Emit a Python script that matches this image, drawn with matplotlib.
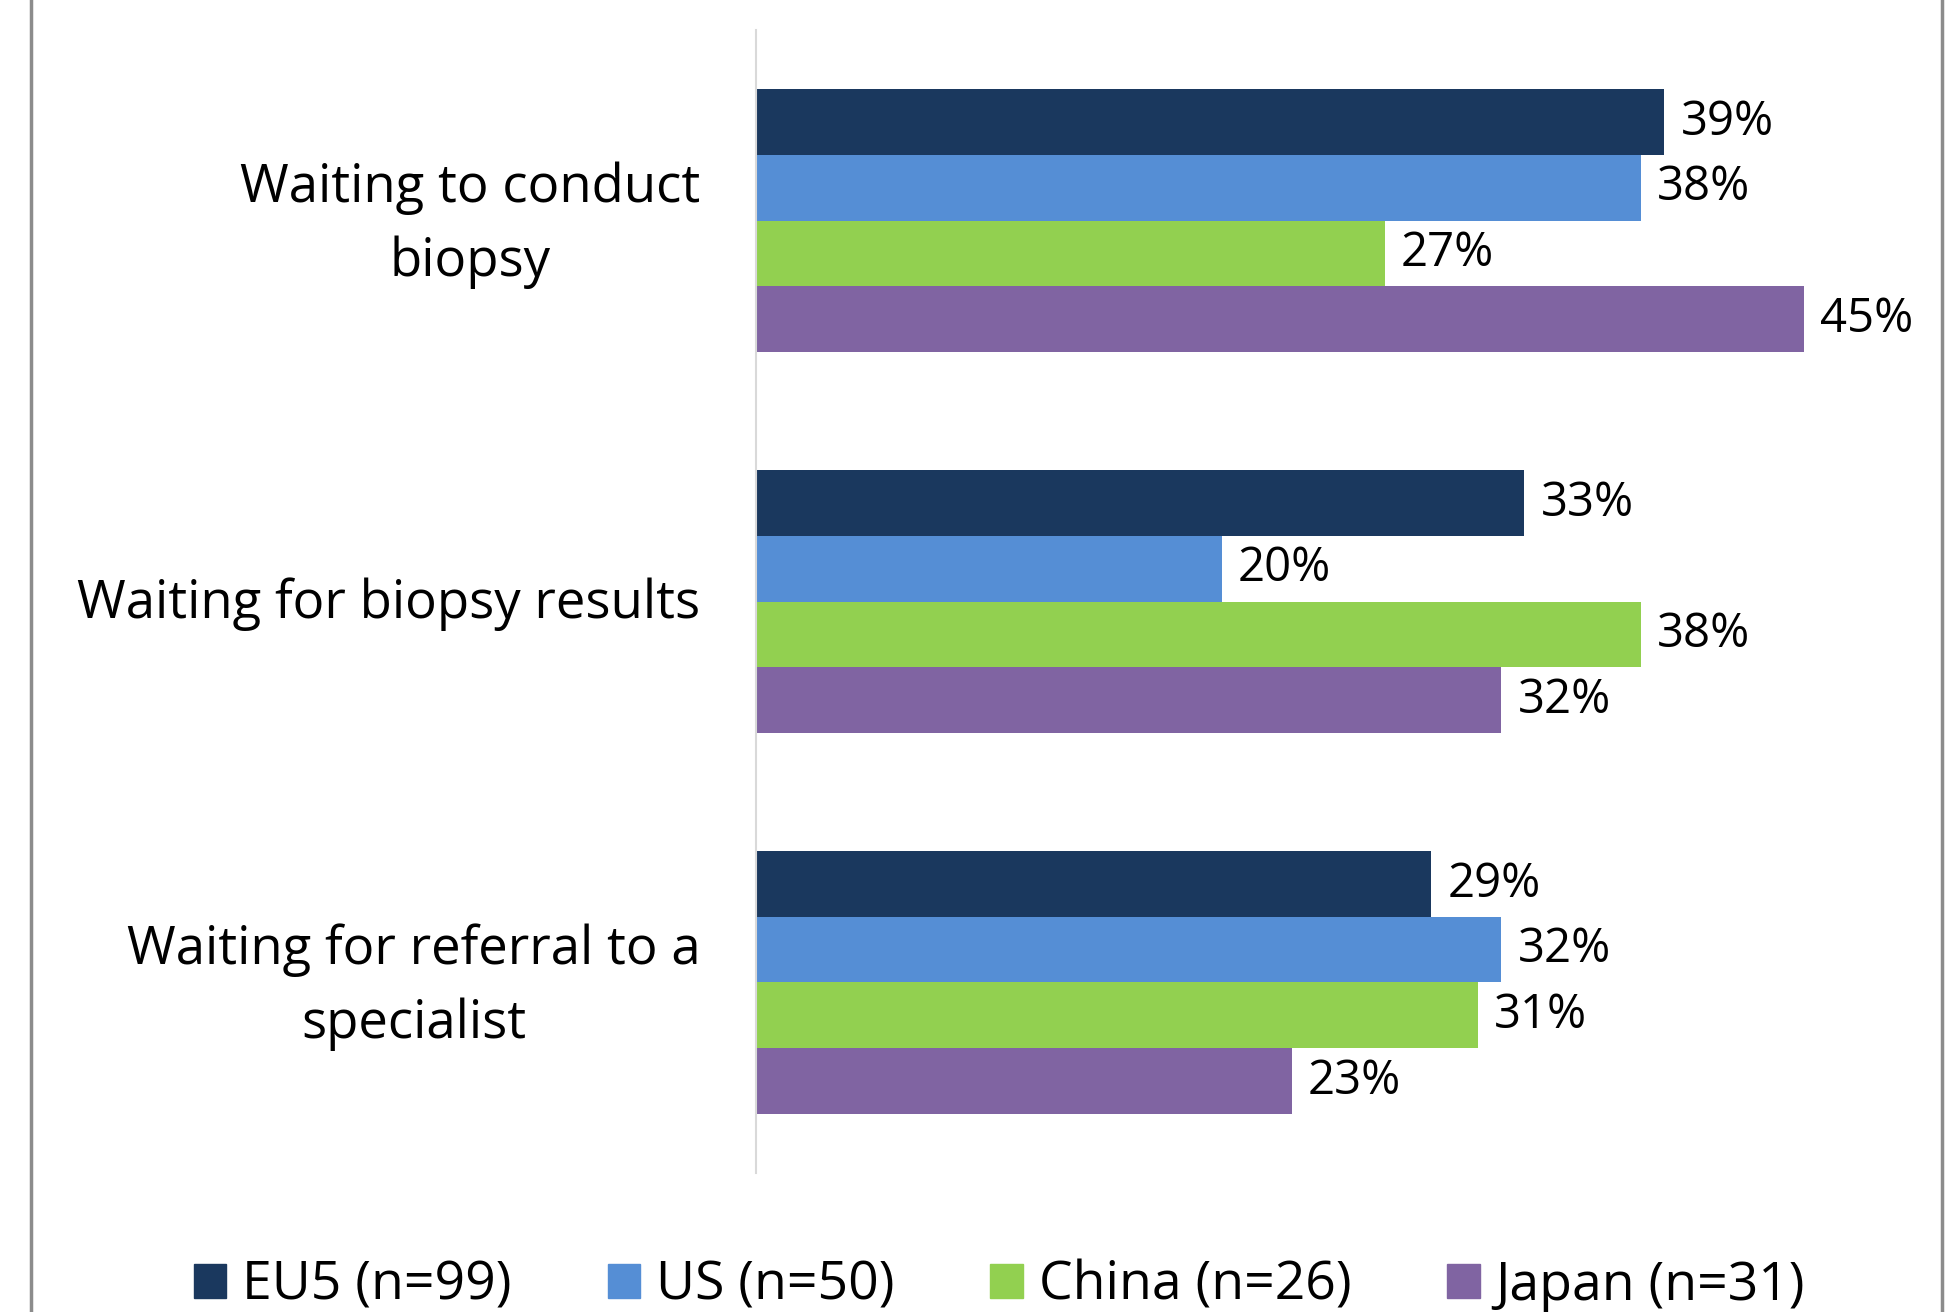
import matplotlib
matplotlib.use('Agg')
import matplotlib.pyplot as plt
import matplotlib.transforms as mtransforms
import numpy as np
from matplotlib.lines import Line2D
from matplotlib.patches import Patch

categories = ['Waiting to conduct\nbiopsy', 'Waiting for biopsy results',
              'Waiting for referral to a\nspecialist']
series = ['EU5 (n=99)', 'US (n=50)', 'China (n=26)', 'Japan (n=31)']
eu5 = [39, 33, 29]
us = [38, 20, 32]
china = [27, 38, 31]
japan = [45, 32, 23]
colors = ['#1A385E', '#558ED5', '#92D050', '#8064A2']

plt.rcParams['font.family'] = ['Open Sans', 'DejaVu Sans']


def main():
    fig = plt.figure(figsize=(19.52, 13.12), dpi=100)
    ax = fig.add_axes([756 / 1952, 1 - 1173 / 1312, (1897 - 756) / 1952, (1173 - 30) / 1312])

    y = np.arange(len(categories))
    h = 0.172
    for i, (vals, col) in enumerate(zip([eu5, us, china, japan], colors)):
        pos = y + (i - 1.5) * h
        ax.barh(pos, vals, height=h, color=col, label=series[i])
        for p, v in zip(pos, vals):
            ax.text(v + 0.7, p, f'{v}%', va='center', ha='left', fontsize=34, color='black')

    ax.set_xlim(0, 49)
    ax.set_ylim(2.5, -0.5)
    ax.set_yticks(y)
    ax.set_yticklabels(categories, fontsize=38, multialignment='center', linespacing=1.5)
    ax.tick_params(axis='y', length=0, pad=40)
    # nudge category labels up a little
    for lab in ax.get_yticklabels():
        up = 12 if '\n' in lab.get_text() else 4
        lab.set_transform(lab.get_transform() +
                          mtransforms.ScaledTranslation(0, up / 100, fig.dpi_scale_trans))
    ax.set_xticks([])
    for s in ['top', 'right', 'bottom']:
        ax.spines[s].set_visible(False)
    ax.spines['left'].set_color('#D9D9D9')
    ax.spines['left'].set_linewidth(1.5)

    # outer frame edges
    fig.add_artist(Line2D([31 / 1952, 31 / 1952], [0, 1], color='#8C8C8C', lw=2.5))
    fig.add_artist(Line2D([1942 / 1952, 1942 / 1952], [0, 1], color='#8C8C8C', lw=2.5))

    handles = [Patch(color=c) for c in colors]
    fig.legend(handles, series, loc='center', ncol=4, frameon=False, fontsize=38.5,
               bbox_to_anchor=(0.512, 1 - 1286 / 1312), handlelength=0.6, handleheight=0.6,
               handletextpad=0.3, columnspacing=1.8)

    plt.savefig('out.png', dpi=100)


if __name__ == '__main__':
    main()
